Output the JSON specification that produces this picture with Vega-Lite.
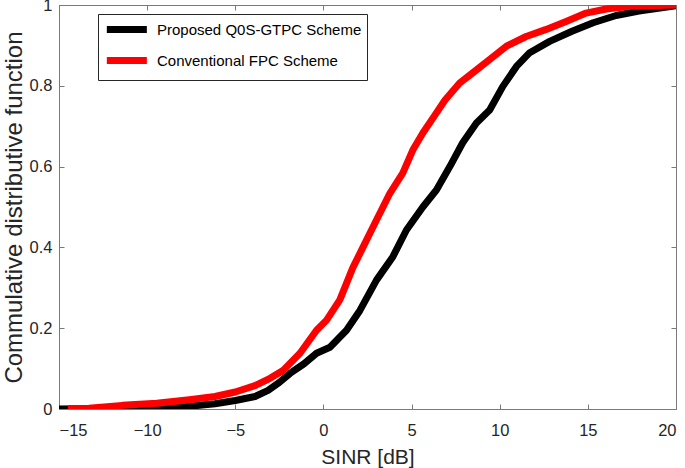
{
  "$schema": "https://vega.github.io/schema/vega-lite/v6.json",
  "width": 617,
  "height": 404,
  "autosize": {"type": "none"},
  "padding": {"left": 59, "top": 5, "right": 9, "bottom": 59},
  "background": "white",
  "config": {
    "font": "Liberation Sans",
    "view": {"stroke": "#7a7a7a", "strokeWidth": 1},
    "axis": {
      "domainColor": "#7a7a7a",
      "tickColor": "#7a7a7a",
      "gridColor": "#e3e3e3",
      "gridWidth": 1,
      "labelColor": "#262626",
      "titleColor": "#262626",
      "labelFont": "Liberation Sans",
      "titleFont": "Liberation Sans",
      "labelFontSize": 16.5,
      "titleFontWeight": "normal",
      "tickSize": -5
    }
  },
  "datasets": {
    "cdf": [
      {"scheme": "Proposed Q0S-GTPC Scheme", "sinr": -15, "cdf": 0},
      {"scheme": "Proposed Q0S-GTPC Scheme", "sinr": -12, "cdf": 0.001},
      {"scheme": "Proposed Q0S-GTPC Scheme", "sinr": -10, "cdf": 0.002},
      {"scheme": "Proposed Q0S-GTPC Scheme", "sinr": -8, "cdf": 0.005},
      {"scheme": "Proposed Q0S-GTPC Scheme", "sinr": -6.15, "cdf": 0.013},
      {"scheme": "Proposed Q0S-GTPC Scheme", "sinr": -5, "cdf": 0.021},
      {"scheme": "Proposed Q0S-GTPC Scheme", "sinr": -3.88, "cdf": 0.031},
      {"scheme": "Proposed Q0S-GTPC Scheme", "sinr": -3.14, "cdf": 0.046},
      {"scheme": "Proposed Q0S-GTPC Scheme", "sinr": -2.5, "cdf": 0.066},
      {"scheme": "Proposed Q0S-GTPC Scheme", "sinr": -1.9, "cdf": 0.088},
      {"scheme": "Proposed Q0S-GTPC Scheme", "sinr": -1.1, "cdf": 0.112},
      {"scheme": "Proposed Q0S-GTPC Scheme", "sinr": -0.39, "cdf": 0.138},
      {"scheme": "Proposed Q0S-GTPC Scheme", "sinr": 0.37, "cdf": 0.153},
      {"scheme": "Proposed Q0S-GTPC Scheme", "sinr": 1.31, "cdf": 0.195},
      {"scheme": "Proposed Q0S-GTPC Scheme", "sinr": 2.07, "cdf": 0.244},
      {"scheme": "Proposed Q0S-GTPC Scheme", "sinr": 3.01, "cdf": 0.319},
      {"scheme": "Proposed Q0S-GTPC Scheme", "sinr": 3.94, "cdf": 0.377},
      {"scheme": "Proposed Q0S-GTPC Scheme", "sinr": 4.71, "cdf": 0.443},
      {"scheme": "Proposed Q0S-GTPC Scheme", "sinr": 5.64, "cdf": 0.5},
      {"scheme": "Proposed Q0S-GTPC Scheme", "sinr": 6.41, "cdf": 0.542},
      {"scheme": "Proposed Q0S-GTPC Scheme", "sinr": 7.17, "cdf": 0.6},
      {"scheme": "Proposed Q0S-GTPC Scheme", "sinr": 7.9, "cdf": 0.659},
      {"scheme": "Proposed Q0S-GTPC Scheme", "sinr": 8.68, "cdf": 0.708},
      {"scheme": "Proposed Q0S-GTPC Scheme", "sinr": 9.43, "cdf": 0.74},
      {"scheme": "Proposed Q0S-GTPC Scheme", "sinr": 10.17, "cdf": 0.798},
      {"scheme": "Proposed Q0S-GTPC Scheme", "sinr": 10.95, "cdf": 0.848},
      {"scheme": "Proposed Q0S-GTPC Scheme", "sinr": 11.7, "cdf": 0.882},
      {"scheme": "Proposed Q0S-GTPC Scheme", "sinr": 12.83, "cdf": 0.91},
      {"scheme": "Proposed Q0S-GTPC Scheme", "sinr": 14.1, "cdf": 0.935},
      {"scheme": "Proposed Q0S-GTPC Scheme", "sinr": 15.3, "cdf": 0.956},
      {"scheme": "Proposed Q0S-GTPC Scheme", "sinr": 16.6, "cdf": 0.974},
      {"scheme": "Proposed Q0S-GTPC Scheme", "sinr": 17.9, "cdf": 0.985},
      {"scheme": "Proposed Q0S-GTPC Scheme", "sinr": 20, "cdf": 0.998},
      {"scheme": "Conventional FPC Scheme", "sinr": -14.5, "cdf": 0.001},
      {"scheme": "Conventional FPC Scheme", "sinr": -13.3, "cdf": 0.002},
      {"scheme": "Conventional FPC Scheme", "sinr": -11.4, "cdf": 0.009},
      {"scheme": "Conventional FPC Scheme", "sinr": -9.45, "cdf": 0.014},
      {"scheme": "Conventional FPC Scheme", "sinr": -7.6, "cdf": 0.023},
      {"scheme": "Conventional FPC Scheme", "sinr": -6.15, "cdf": 0.031},
      {"scheme": "Conventional FPC Scheme", "sinr": -5, "cdf": 0.042},
      {"scheme": "Conventional FPC Scheme", "sinr": -3.88, "cdf": 0.058},
      {"scheme": "Conventional FPC Scheme", "sinr": -3.03, "cdf": 0.076},
      {"scheme": "Conventional FPC Scheme", "sinr": -2.3, "cdf": 0.095},
      {"scheme": "Conventional FPC Scheme", "sinr": -1.33, "cdf": 0.138},
      {"scheme": "Conventional FPC Scheme", "sinr": -0.39, "cdf": 0.195},
      {"scheme": "Conventional FPC Scheme", "sinr": 0.18, "cdf": 0.22},
      {"scheme": "Conventional FPC Scheme", "sinr": 0.93, "cdf": 0.27},
      {"scheme": "Conventional FPC Scheme", "sinr": 1.67, "cdf": 0.35},
      {"scheme": "Conventional FPC Scheme", "sinr": 2.24, "cdf": 0.4},
      {"scheme": "Conventional FPC Scheme", "sinr": 3.01, "cdf": 0.468},
      {"scheme": "Conventional FPC Scheme", "sinr": 3.77, "cdf": 0.534},
      {"scheme": "Conventional FPC Scheme", "sinr": 4.5, "cdf": 0.584},
      {"scheme": "Conventional FPC Scheme", "sinr": 5.07, "cdf": 0.641},
      {"scheme": "Conventional FPC Scheme", "sinr": 5.64, "cdf": 0.683},
      {"scheme": "Conventional FPC Scheme", "sinr": 6.41, "cdf": 0.733},
      {"scheme": "Conventional FPC Scheme", "sinr": 6.9, "cdf": 0.765},
      {"scheme": "Conventional FPC Scheme", "sinr": 7.73, "cdf": 0.807},
      {"scheme": "Conventional FPC Scheme", "sinr": 8.47, "cdf": 0.832},
      {"scheme": "Conventional FPC Scheme", "sinr": 9.43, "cdf": 0.865},
      {"scheme": "Conventional FPC Scheme", "sinr": 10.38, "cdf": 0.898},
      {"scheme": "Conventional FPC Scheme", "sinr": 11.5, "cdf": 0.922},
      {"scheme": "Conventional FPC Scheme", "sinr": 12.6, "cdf": 0.939},
      {"scheme": "Conventional FPC Scheme", "sinr": 13.8, "cdf": 0.96},
      {"scheme": "Conventional FPC Scheme", "sinr": 14.9, "cdf": 0.98},
      {"scheme": "Conventional FPC Scheme", "sinr": 16.04, "cdf": 0.99},
      {"scheme": "Conventional FPC Scheme", "sinr": 17.4, "cdf": 0.997},
      {"scheme": "Conventional FPC Scheme", "sinr": 20, "cdf": 1.0}
    ]
  },
  "data": {"name": "cdf"},
  "resolve": {"axis": {"x": "independent", "y": "independent"}},
  "layer": [
    {
      "mark": {"type": "line", "strokeOpacity": 0, "strokeWidth": 1},
      "encoding": {
        "x": {"field": "sinr", "type": "quantitative", "scale": {"domain": [-15, 20], "nice": false, "zero": false},
          "axis": {"orient": "top", "values": [-15, -10, -5, 0, 5, 10, 15, 20], "labels": false, "title": null, "grid": false, "domain": false}},
        "y": {"field": "cdf", "type": "quantitative", "scale": {"domain": [0, 1], "nice": false},
          "axis": {"orient": "right", "values": [0, 0.2, 0.4, 0.6, 0.8, 1], "labels": false, "title": null, "grid": false, "domain": false}},
        "detail": {"field": "scheme"}
      }
    },
    {
      "mark": {"type": "line", "strokeWidth": 7, "strokeJoin": "round", "strokeCap": "butt", "clip": true},
      "encoding": {
        "x": {
          "field": "sinr", "type": "quantitative",
          "scale": {"domain": [-15, 20], "nice": false, "zero": false},
          "axis": {"orient": "bottom", "values": [-15, -10, -5, 0, 5, 10, 15, 20], "title": "SINR [dB]", "titleFontSize": 21, "titlePadding": 8, "labelPadding": 18}
        },
        "y": {
          "field": "cdf", "type": "quantitative",
          "scale": {"domain": [0, 1], "nice": false},
          "axis": {"orient": "left", "values": [0, 0.2, 0.4, 0.6, 0.8, 1], "format": ".1~f", "title": "Commulative distributive function", "titleFontSize": 24, "titlePadding": 3, "labelPadding": 12}
        },
        "color": {
          "field": "scheme", "type": "nominal",
          "scale": {"domain": ["Proposed Q0S-GTPC Scheme", "Conventional FPC Scheme"], "range": ["#000000", "#ff0000"]},
          "legend": {
            "title": null,
            "orient": "none",
            "legendX": 39,
            "legendY": 9,
            "fillColor": "white",
            "strokeColor": "#262626",
            "padding": 5,
            "symbolType": "M-1,0H5",
            "symbolStrokeWidth": 7,
            "symbolSize": 178,
            "labelFontSize": 15,
            "labelFont": "Liberation Sans",
            "labelColor": "#000000",
            "labelOffset": 33,
            "rowPadding": 2,
            "labelLimit": 400
          }
        },
        "order": {"field": "sinr", "type": "quantitative"}
      }
    }
  ]
}
